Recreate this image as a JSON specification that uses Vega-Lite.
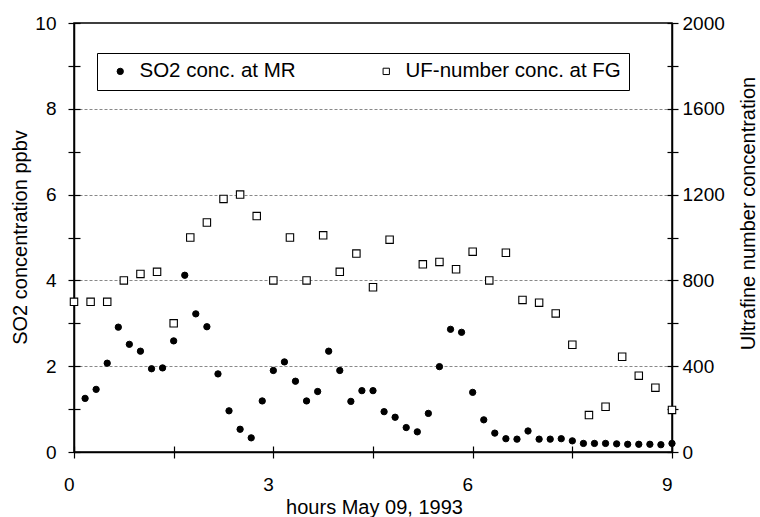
{
  "$schema": "https://vega.github.io/schema/vega-lite/v6.json",
  "width": 598,
  "height": 429,
  "autosize": {"type": "none"},
  "padding": {"left": 74, "top": 23, "right": 88, "bottom": 65},
  "background": "white",
  "config": {
    "font": "Liberation Sans",
    "view": {"stroke": "black", "strokeWidth": 1.5},
    "axis": {
      "domainColor": "black", "domainWidth": 1.5,
      "tickColor": "black", "tickWidth": 1.2, "tickSize": 6,
      "labelFont": "Liberation Sans", "labelFontSize": 19, "labelColor": "black",
      "labelOverlap": false, "labelFlush": false,
      "titleFont": "Liberation Sans", "titleFontSize": 20, "titleFontWeight": "normal", "titleColor": "black",
      "grid": false
    },
    "legend": {
      "orient": "none", "legendX": 23, "legendY": 30,
      "direction": "horizontal",
      "fillColor": "white", "strokeColor": "black",
      "padding": 8,
      "symbolOffset": 5,
      "labelFont": "Liberation Sans", "labelFontSize": 20.5, "labelColor": "black",
      "labelOffset": 9, "columnPadding": 75, "labelLimit": 400,
      "symbolSize": 40, "symbolStrokeWidth": 1
    }
  },
  "datasets": {
    "so2": [
      {"hours": 0.167, "so2": 1.25}, {"hours": 0.333, "so2": 1.46}, {"hours": 0.5, "so2": 2.07},
      {"hours": 0.667, "so2": 2.91}, {"hours": 0.833, "so2": 2.51}, {"hours": 1.0, "so2": 2.35},
      {"hours": 1.167, "so2": 1.94}, {"hours": 1.333, "so2": 1.96}, {"hours": 1.5, "so2": 2.59},
      {"hours": 1.667, "so2": 4.12}, {"hours": 1.833, "so2": 3.22}, {"hours": 2.0, "so2": 2.92},
      {"hours": 2.167, "so2": 1.82}, {"hours": 2.333, "so2": 0.96}, {"hours": 2.5, "so2": 0.53},
      {"hours": 2.667, "so2": 0.33}, {"hours": 2.833, "so2": 1.19}, {"hours": 3.0, "so2": 1.9},
      {"hours": 3.167, "so2": 2.1}, {"hours": 3.333, "so2": 1.65}, {"hours": 3.5, "so2": 1.19},
      {"hours": 3.667, "so2": 1.41}, {"hours": 3.833, "so2": 2.35}, {"hours": 4.0, "so2": 1.9},
      {"hours": 4.167, "so2": 1.18}, {"hours": 4.333, "so2": 1.43}, {"hours": 4.5, "so2": 1.43},
      {"hours": 4.667, "so2": 0.94}, {"hours": 4.833, "so2": 0.81}, {"hours": 5.0, "so2": 0.57},
      {"hours": 5.167, "so2": 0.47}, {"hours": 5.333, "so2": 0.9}, {"hours": 5.5, "so2": 1.99},
      {"hours": 5.667, "so2": 2.86}, {"hours": 5.833, "so2": 2.79}, {"hours": 6.0, "so2": 1.39},
      {"hours": 6.167, "so2": 0.75}, {"hours": 6.333, "so2": 0.44}, {"hours": 6.5, "so2": 0.31},
      {"hours": 6.667, "so2": 0.3}, {"hours": 6.833, "so2": 0.49}, {"hours": 7.0, "so2": 0.3},
      {"hours": 7.167, "so2": 0.3}, {"hours": 7.333, "so2": 0.31}, {"hours": 7.5, "so2": 0.26},
      {"hours": 7.667, "so2": 0.2}, {"hours": 7.833, "so2": 0.2}, {"hours": 8.0, "so2": 0.2},
      {"hours": 8.167, "so2": 0.19}, {"hours": 8.333, "so2": 0.18}, {"hours": 8.5, "so2": 0.18},
      {"hours": 8.667, "so2": 0.18}, {"hours": 8.833, "so2": 0.17}, {"hours": 9.0, "so2": 0.2}
    ],
    "uf": [
      {"hours": 0.0, "uf": 700}, {"hours": 0.25, "uf": 700}, {"hours": 0.5, "uf": 700},
      {"hours": 0.75, "uf": 800}, {"hours": 1.0, "uf": 830}, {"hours": 1.25, "uf": 840},
      {"hours": 1.5, "uf": 600}, {"hours": 1.75, "uf": 1000}, {"hours": 2.0, "uf": 1070},
      {"hours": 2.25, "uf": 1180}, {"hours": 2.5, "uf": 1200}, {"hours": 2.75, "uf": 1100},
      {"hours": 3.0, "uf": 800}, {"hours": 3.25, "uf": 1000}, {"hours": 3.5, "uf": 800},
      {"hours": 3.75, "uf": 1010}, {"hours": 4.0, "uf": 840}, {"hours": 4.25, "uf": 925},
      {"hours": 4.5, "uf": 768}, {"hours": 4.75, "uf": 990}, {"hours": 5.25, "uf": 875},
      {"hours": 5.5, "uf": 886}, {"hours": 5.75, "uf": 852}, {"hours": 6.0, "uf": 934},
      {"hours": 6.25, "uf": 800}, {"hours": 6.5, "uf": 929}, {"hours": 6.75, "uf": 709},
      {"hours": 7.0, "uf": 696}, {"hours": 7.25, "uf": 646}, {"hours": 7.5, "uf": 500},
      {"hours": 7.75, "uf": 172}, {"hours": 8.0, "uf": 211}, {"hours": 8.25, "uf": 444},
      {"hours": 8.5, "uf": 356}, {"hours": 8.75, "uf": 300}, {"hours": 9.0, "uf": 196}
    ]
  },
  "layer": [
    {
      "data": {"name": "so2"},
      "mark": {"type": "point", "opacity": 0},
      "encoding": {
        "x": {
          "field": "hours", "type": "quantitative",
          "scale": {"domain": [0, 9], "nice": false},
          "axis": {
            "orient": "bottom", "title": null, "labels": false, "domain": false,
            "values": [0, 1.5, 3, 4.5, 6, 7.5, 9], "tickSize": -6
          }
        },
        "y": {
          "field": "so2", "type": "quantitative",
          "scale": {"domain": [0, 10], "nice": false},
          "axis": {
            "orient": "left", "title": null, "labels": false, "domain": false,
            "values": [0, 1, 2, 3, 4, 5, 6, 7, 8, 9, 10], "tickSize": -6
          }
        }
      }
    },
    {
      "data": {"name": "uf"},
      "mark": {"type": "point", "opacity": 0},
      "encoding": {
        "x": {"field": "hours", "type": "quantitative", "axis": null},
        "y": {
          "field": "uf", "type": "quantitative",
          "scale": {"domain": [0, 2000], "nice": false},
          "axis": {
            "orient": "right", "title": null, "labels": false, "domain": false,
            "values": [0, 200, 400, 600, 800, 1000, 1200, 1400, 1600, 1800, 2000], "tickSize": -5
          }
        }
      }
    },
    {
      "data": {"name": "so2"},
      "mark": {"type": "point", "filled": true, "size": 40, "strokeWidth": 1, "opacity": 1},
      "encoding": {
        "x": {
          "field": "hours", "type": "quantitative",
          "scale": {"domain": [0, 9], "nice": false},
          "axis": {
            "orient": "bottom",
            "title": "hours May 09, 1993",
            "values": [0, 1.5, 3, 4.5, 6, 7.5, 9],
            "format": "d",
            "labelExpr": "datum.value % 3 == 0 ? datum.label : ''",
            "labelAlign": "right", "labelDx": 1,
            "labelPadding": 17,
            "titleX": 300, "titleY": 55, "titleBaseline": "middle", "titleAlign": "center"
          }
        },
        "y": {
          "field": "so2", "type": "quantitative",
          "scale": {"domain": [0, 10], "nice": false},
          "axis": {
            "title": "SO2 concentration ppbv",
            "orient": "left",
            "values": [0, 1, 2, 3, 4, 5, 6, 7, 8, 9, 10],
            "labelExpr": "datum.value % 2 == 0 ? datum.label : ''",
            "labelPadding": 12,
            "grid": true,
            "gridColor": "#888888",
            "gridDash": [3, 2],
            "gridWidth": 1,
            "gridOpacity": {"condition": {"test": "datum.value % 2 == 1 || datum.value == 0 || datum.value == 10", "value": 0}, "value": 1},
            "titleX": -54, "titleY": 214, "titleAngle": 270, "titleBaseline": "middle", "titleAlign": "center"
          }
        },
        "shape": {
          "datum": "SO2 conc. at MR",
          "scale": {"domain": ["SO2 conc. at MR", "UF-number conc. at FG"], "range": ["circle", "square"]},
          "legend": {"title": null}
        },
        "fill": {
          "datum": "SO2 conc. at MR",
          "scale": {"domain": ["SO2 conc. at MR", "UF-number conc. at FG"], "range": ["black", "white"]},
          "legend": {"title": null}
        },
        "stroke": {
          "datum": "SO2 conc. at MR",
          "scale": {"domain": ["SO2 conc. at MR", "UF-number conc. at FG"], "range": ["black", "black"]},
          "legend": {"title": null}
        }
      }
    },
    {
      "data": {"name": "uf"},
      "mark": {"type": "point", "filled": true, "size": 55, "strokeWidth": 1.1, "opacity": 1},
      "encoding": {
        "x": {"field": "hours", "type": "quantitative", "axis": null},
        "y": {
          "field": "uf", "type": "quantitative",
          "scale": {"domain": [0, 2000], "nice": false},
          "axis": {
            "title": "Ultrafine number concentration",
            "orient": "right",
            "values": [0, 200, 400, 600, 800, 1000, 1200, 1400, 1600, 1800, 2000],
            "labelExpr": "datum.value % 400 == 0 ? datum.label : ''",
            "format": "d",
            "labelPadding": 4,
            "grid": false,
            "titleX": 76, "titleY": 190, "titleAngle": 270, "titleBaseline": "middle", "titleAlign": "center"
          }
        },
        "shape": {"datum": "UF-number conc. at FG"},
        "fill": {"datum": "UF-number conc. at FG"},
        "stroke": {"datum": "UF-number conc. at FG"}
      }
    }
  ],
  "resolve": {"scale": {"y": "independent"}, "axis": {"x": "independent", "y": "independent"}}
}
